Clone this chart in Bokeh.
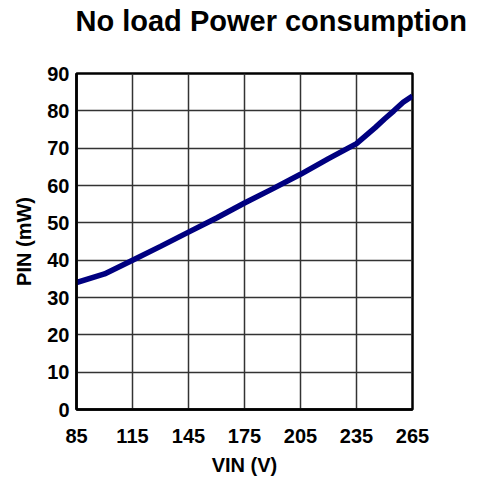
from bokeh.plotting import figure
from bokeh.models import FixedTicker, Range1d
from bokeh.embed import file_html
from bokeh.resources import INLINE

vin = [85, 100, 115, 130, 145, 160, 175, 190, 205, 220, 235, 245, 250, 255, 260, 265]
pin = [34.0, 36.3, 40.0, 43.7, 47.5, 51.3, 55.3, 59.1, 63.0, 67.2, 71.2, 75.5, 77.8, 80.0, 82.3, 84.0]
x_ticks = [85, 115, 145, 175, 205, 235, 265]
y_ticks = [0, 10, 20, 30, 40, 50, 60, 70, 80, 90]
title_text = "No load Power consumption"

FONT = "Liberation Sans"

p = figure(frame_width=336, frame_height=336, output_backend="svg", toolbar_location=None,
           x_range=Range1d(85, 265), y_range=Range1d(0, 90), title=title_text + "\n ",
           min_border_left=76, min_border_right=60, min_border_top=73, min_border_bottom=64)

p.title.text_font = FONT
p.title.text_font_size = "29px"
p.title.text_font_style = "bold"
p.title.text_color = "black"
p.title.align = "left"
p.title.vertical_align = "top"
p.title.offset = -1
p.title.standoff = 6

p.line(vin, pin, line_color="#000080", line_width=5.5)

for ax in (p.xaxis, p.yaxis):
    ax.major_tick_line_color = None
    ax.minor_tick_line_color = None
    ax.axis_line_color = "black"
    ax.axis_line_width = 2.5
    ax.major_label_text_font = FONT
    ax.major_label_text_font_size = "20px"
    ax.major_label_text_font_style = "bold"
    ax.major_label_text_color = "black"
    ax.axis_label_text_font = FONT
    ax.axis_label_text_font_size = "20px"
    ax.axis_label_text_font_style = "bold"
    ax.axis_label_text_color = "black"

p.xaxis.ticker = FixedTicker(ticks=x_ticks)
p.yaxis.ticker = FixedTicker(ticks=y_ticks)
p.xaxis.axis_label = "VIN (V)"
p.yaxis.axis_label = "PIN (mW)"
p.xaxis.major_label_standoff = 13
p.yaxis.major_label_standoff = 1
p.xaxis.axis_label_standoff = 8
p.yaxis.axis_label_standoff = 9

p.xgrid.ticker = FixedTicker(ticks=x_ticks)
p.ygrid.ticker = FixedTicker(ticks=y_ticks)
for g in (p.xgrid, p.ygrid):
    g.grid_line_color = "#333333"
    g.grid_line_width = 1.5
    g.grid_line_alpha = 1.0

p.outline_line_color = "black"
p.outline_line_width = 2.5
p.outline_line_alpha = 1.0
p.background_fill_color = "white"
p.border_fill_color = "white"

open("out.html", "w").write(file_html(p, INLINE))
